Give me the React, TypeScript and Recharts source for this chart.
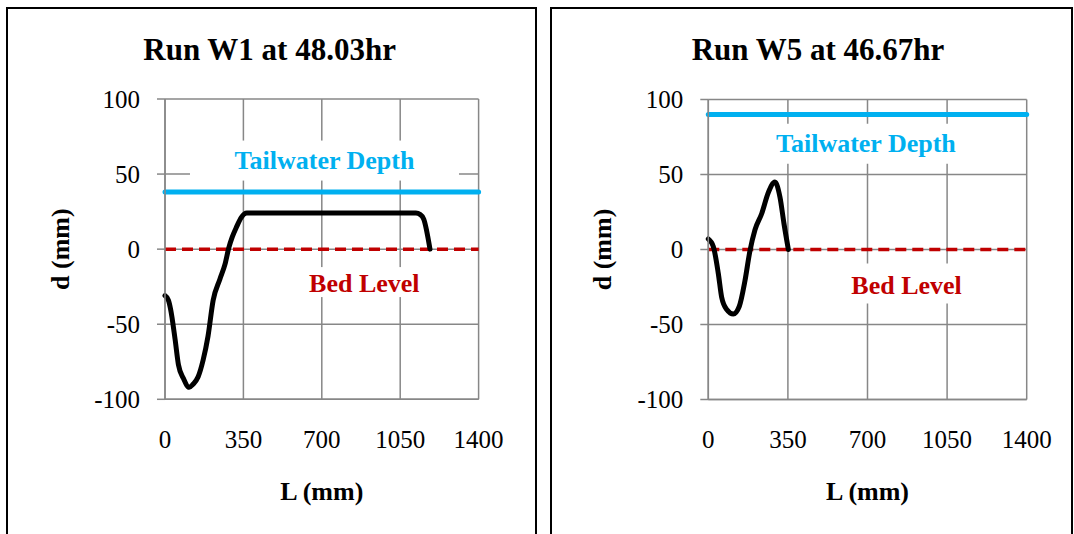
import React from "react";
import { CartesianGrid, Line, LineChart, ReferenceDot, XAxis, YAxis } from "recharts";

const FONT = '"Liberation Serif", "Times New Roman", serif';

// axis ticks
const lTicks = [0, 350, 700, 1050, 1400];
const dTicks = [-100, -50, 0, 50, 100];

// Run W1 profile (L in mm, d in mm)
const lengthW1 = [0, 15, 25, 45, 60, 82, 108, 125, 148, 170, 192, 215, 245, 268, 285, 300, 320, 340, 365, 1120, 1140, 1155, 1183];
const depthW1 = [-31, -34, -40, -60, -77, -86, -92, -90, -85, -74, -58, -34, -20, -10, 1, 8, 15, 21, 24, 24, 23, 20, 0];

// Run W5 profile
const lengthW5 = [0, 22, 44, 59, 81, 110, 136, 161, 183, 205, 235, 264, 293, 315, 333, 352];
const depthW5 = [7, 2, -16, -32, -40, -43, -38, -21, -1, 13, 24, 38, 45, 35, 17, 0];

// tailwater and bed level lines
const levelL = [0, 1400];
const tailwaterW1 = [38, 38];
const tailwaterW5 = [90, 90];
const bedLevel = [0, 0];

const toRows = (xs: number[], ys: number[]) => xs.map((L, i) => ({ L, d: ys[i] }));

const note = (text: string, color: string, boxW: number, boxH: number, boxDy: number) => (p: any) => {
  const { cx, cy } = p;
  return (
    <g>
      <rect x={cx - boxW / 2} y={cy - boxH / 2 + boxDy} width={boxW} height={boxH} fill="#fff" />
      <text x={cx} y={cy + 8.6} textAnchor="middle" fill={color} fontSize={26} fontWeight="bold" fontFamily={FONT}>
        {text}
      </text>
    </g>
  );
};

type PanelProps = {
  left: number;
  width: number;
  margin: { top: number; right: number; bottom: number; left: number };
  xAxisHeight: number;
  yLabelOffset: number;
  profile: { L: number; d: number }[];
  tailwater: { L: number; d: number }[];
  tailNote: [number, number, number];
  bedNote: [number, number, number, number];
};

function Panel(props: PanelProps) {
  const { left, width, margin, xAxisHeight, yLabelOffset, profile, tailwater, tailNote, bedNote } = props;
  const bed = toRows(levelL, bedLevel);
  const tick = { fill: "#000", fontSize: 25, fontFamily: FONT };
  return (
    <div style={{ position: "absolute", left, top: 0 }}>
      <LineChart width={width} height={534} margin={margin}>
        <CartesianGrid stroke="#878787" strokeWidth={1.5} horizontalValues={dTicks} verticalValues={lTicks} />
        <XAxis
          type="number"
          dataKey="L"
          domain={[0, 1400]}
          ticks={lTicks}
          height={xAxisHeight}
          tick={tick}
          tickLine={false}
          tickSize={6}
          tickMargin={25}
          axisLine={{ stroke: "#878787", strokeWidth: 1.5 }}
          label={{
            value: "L (mm)",
            position: "insideBottom",
            offset: 34,
            style: { fill: "#000", fontSize: 26, fontWeight: "bold", fontFamily: FONT },
          }}
        />
        <YAxis
          type="number"
          dataKey="d"
          domain={[-100, 100]}
          ticks={dTicks}
          width={120}
          tick={tick}
          tickSize={8}
          tickMargin={17}
          tickLine={{ stroke: "#878787", strokeWidth: 1.5 }}
          axisLine={{ stroke: "#878787", strokeWidth: 1.5 }}
          label={{
            value: "d (mm)",
            angle: -90,
            position: "insideLeft",
            offset: yLabelOffset,
            style: { fill: "#000", fontSize: 26, fontWeight: "bold", fontFamily: FONT, textAnchor: "middle" },
          }}
        />
        <ReferenceDot
          x={tailNote[0]}
          y={tailNote[1]}
          r={0}
          ifOverflow="visible"
          shape={note("Tailwater Depth", "#00B0F0", 269, 40, 0)}
        />
        <ReferenceDot
          x={bedNote[0]}
          y={bedNote[1]}
          r={0}
          ifOverflow="visible"
          shape={note("Bed Level", "#C00000", 190, bedNote[2], bedNote[3])}
        />
        <Line
          data={bed}
          dataKey="d"
          stroke="#C00000"
          strokeWidth={3.5}
          strokeDasharray="11 6"
          dot={false}
          isAnimationActive={false}
        />
        <Line
          data={tailwater}
          dataKey="d"
          stroke="#00B0F0"
          strokeWidth={5}
          strokeLinecap="round"
          dot={false}
          isAnimationActive={false}
        />
        <Line
          data={profile}
          dataKey="d"
          type="monotone"
          stroke="#000"
          strokeWidth={5}
          strokeLinecap="round"
          strokeLinejoin="round"
          dot={false}
          isAnimationActive={false}
        />
      </LineChart>
    </div>
  );
}

export default function App() {
  return (
    <div style={{ position: "absolute", left: 0, top: 0, width: 1074, height: 534, overflow: "hidden", background: "#fff" }}>
      <div style={{ position: "absolute", left: 6, top: 7, width: 531, height: 600, border: "2px solid #000", boxSizing: "border-box" }} />
      <div style={{ position: "absolute", left: 550, top: 7, width: 523, height: 600, border: "2px solid #000", boxSizing: "border-box" }} />
      <Panel
        left={0}
        width={540}
        margin={{ top: 99, right: 61.4, bottom: 0, left: 45 }}
        xAxisHeight={134.7}
        yLabelOffset={15}
        profile={toRows(lengthW1, depthW1)}
        tailwater={toRows(levelL, tailwaterW1)}
        tailNote={[712, 59, 0]}
        bedNote={[890, -23, 30, -1.6]}
      />
      <Panel
        left={540}
        width={534}
        margin={{ top: 99.5, right: 47.3, bottom: 0, left: 48.3 }}
        xAxisHeight={134.5}
        yLabelOffset={13.7}
        profile={toRows(lengthW5, depthW5)}
        tailwater={toRows(levelL, tailwaterW5)}
        tailNote={[693, 70.5, 0]}
        bedNote={[872, -24, 40, -2]}
      />
      <svg width={1074} height={534} style={{ position: "absolute", left: 0, top: 0, pointerEvents: "none" }}>
        <text x={269.6} y={60} textAnchor="middle" fontSize={31} fontWeight="bold" fontFamily={FONT} fill="#000">
          Run W1 at 48.03hr
        </text>
        <text x={818} y={60} textAnchor="middle" fontSize={31} fontWeight="bold" fontFamily={FONT} fill="#000">
          Run W5 at 46.67hr
        </text>
      </svg>
    </div>
  );
}
